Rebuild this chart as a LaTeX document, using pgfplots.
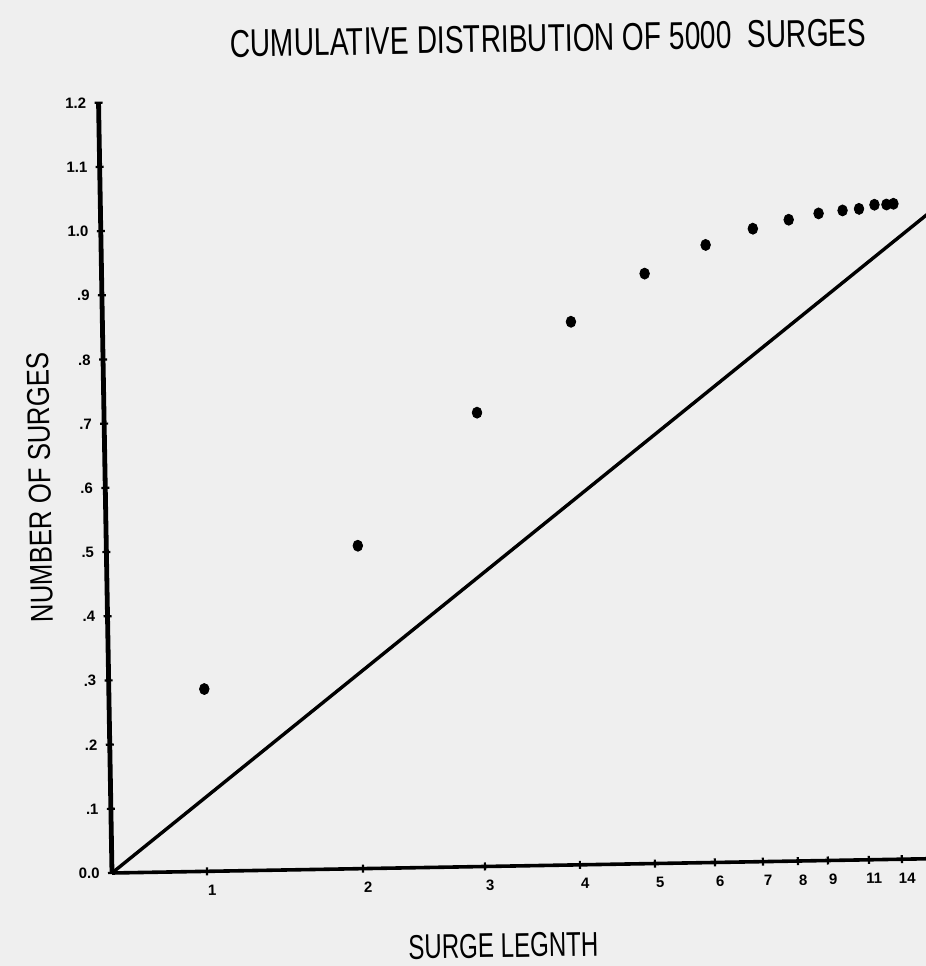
\documentclass[border=0pt]{standalone}
\usepackage{fontspec}
\setmainfont{Liberation Sans}
\usepackage{pgfplots}
\pgfplotsset{compat=1.18}
\definecolor{paper}{HTML}{EFEFEF}
\begin{document}
\begin{tikzpicture}
\fill[paper] (-56pt,-46.5pt) rectangle (407pt,436.5pt);
\useasboundingbox (-56pt,-46.5pt) rectangle (407pt,436.5pt);
\begin{scope}[rotate=1.0]
\begin{axis}[
  anchor=origin, at={(0pt,0pt)},
  x=0.5pt, y=321pt,
  xmin=0, xmax=830, ymin=0, ymax=1.2,
  axis lines=left,
  axis line style={-},
  x axis line style={line width=1.8pt},
  y axis line style={line width=2.4pt},
  tick style={black, line width=1.1pt},
  major tick length=4pt,
  tick align=center,
  xtick={95,251,373,468,543,603,651,686,716,757,790},
  xticklabels={1,2,3,4,5,6,7,8,9,11,14},
  ytick={0,0.1,0.2,0.3,0.4,0.5,0.6,0.7,0.8,0.9,1.0,1.1,1.2},
  yticklabels={0.0,.1,.2,.3,.4,.5,.6,.7,.8,.9,1.0,1.1,1.2},
  ticklabel style={font=\bfseries\fontsize{7.5}{8}\selectfont, inner sep=0pt},
  xticklabel style={anchor=center, yshift=-7.5pt, xshift=2.5pt},
  yticklabel style={anchor=east, xshift=-4pt},
  title={\resizebox{318pt}{13.5pt}{CUMULATIVE DISTRIBUTION OF 5000\ \ SURGES}},
  title style={at={(axis description cs:0.543,1.058)}, anchor=center, inner sep=0pt},
  xlabel={\resizebox{95pt}{12pt}{SURGE LEGNTH}},
  xlabel style={at={(axis description cs:0.47,-0.103)}, anchor=center, inner sep=0pt},
  ylabel={\resizebox{135pt}{11pt}{NUMBER OF SURGES}},
  ylabel style={at={(axis description cs:-0.079,0.502)}, anchor=center, inner sep=0pt, rotate=0},
]
\addplot[black, line width=1.7pt] coordinates {(0,0) (850,1.032)};
\addplot[only marks, mark=*, mark size=2.4pt, mark options={black, yscale=1.15}] coordinates {
(95.5,0.284) (251.5,0.503) (373,0.707) (468.5,0.846) (543,0.919) (604.5,0.962)
(652,0.986) (688,0.999) (718,1.008) (742,1.012) (758.5,1.014) (774,1.020)
(786,1.020) (793,1.021)
};
\end{axis}
\end{scope}
\end{tikzpicture}
\end{document}
